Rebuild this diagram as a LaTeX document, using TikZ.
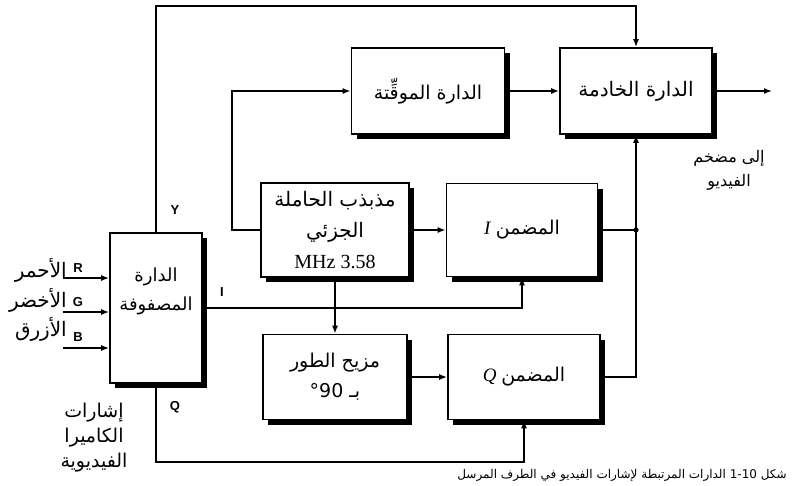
\documentclass[tikz,border=0pt]{standalone}
\usepackage{fontspec}
\setmainfont{Liberation Serif}
\newfontfamily\arabicfont[Script=Arabic]{DejaVu Sans}
\newfontfamily\lblfont{Liberation Sans}
\TeXXeTstate=1
\usetikzlibrary{arrows.meta,shadows}
\newcommand{\artxt}[1]{{\arabicfont\beginR #1\endR}}
\begin{document}
\begin{tikzpicture}[x=1pt,y=-1pt,
 box/.style={draw, line width=1.6pt, fill=white, align=center, inner sep=2pt,
   font=\fontsize{19}{30}\selectfont,
   drop shadow={shadow xshift=5pt, shadow yshift=-5pt, fill=black, opacity=1}},
 conn/.style={line width=1.5pt},
 arr/.style={conn, -{Latex[length=8pt,width=6pt]}},
 sig/.style={font=\lblfont\bfseries\fontsize{13}{14}\selectfont, inner sep=0pt},
 lbl/.style={font=\fontsize{19}{25}\selectfont, align=center, inner sep=0pt}]
\useasboundingbox (0,0) rectangle (793,485);

% boxes
\node[box, minimum width=92pt, minimum height=150pt, font=\fontsize{18}{29}\selectfont] (mat) at (156,308)
  {\artxt{الدارة}\\\artxt{المصفوفة}\\\strut};
\node[box, minimum width=153pt, minimum height=86pt] (timer) at (428,91)
  {\artxt{الدارة الموقِّتة}};
\node[box, minimum width=152pt, minimum height=86pt, font=\fontsize{20}{30}\selectfont] (servo) at (636,91)
  {\artxt{الدارة الخادمة}};
\node[box, minimum width=148pt, minimum height=94pt, font=\fontsize{20}{31}\selectfont] (osc) at (335,230)
  {\artxt{مذبذب الحاملة}\\\artxt{الجزئي}\\MHz 3.58};
\node[box, minimum width=151pt, minimum height=93pt] (imod) at (522,230)
  {\textit{I}\ \artxt{المضمن}};
\node[box, minimum width=144pt, minimum height=85pt] (phase) at (335,377)
  {\artxt{مزيح الطور}\\\artxt{بـ \beginL°90\endL}};
\node[box, minimum width=152pt, minimum height=85pt] (qmod) at (524,377)
  {\textit{Q}\ \artxt{المضمن}};

% helper coordinates
\coordinate (ytop) at (0,6);
\coordinate (tl) at (232,0);
\coordinate (qbot) at (0,462);
\coordinate (out) at (772,91);
\coordinate (rin) at (63,278);
\coordinate (gin) at (63,312);
\coordinate (bin) at (63,348);

% connectors
\draw[arr] (mat.north) -- (mat.north |- ytop) -- (servo.north |- ytop) -- (servo.north);
\draw[arr] (osc.west) -- (osc.west -| tl) |- (timer.west);
\draw[arr] (timer.east) -- (servo.west);
\draw[arr] (servo.east) -- (out);
\draw[arr] (osc.east) -- (imod.west);
\draw[arr] (osc.south) -- (phase.north);
\draw[arr] (mat.east) -| (imod.south);
\draw[arr] (phase.east) -- (qmod.west);
\draw[arr] (mat.south) -- (mat.south |- qbot) -| (qmod.south);
\draw[conn] (imod.east) -- (imod.east -| servo.south);
\draw[arr] (qmod.east) -| (servo.south);
\fill (imod.east -| servo.south) circle (2.6pt);
\draw[arr] (rin) -- (rin -| mat.west);
\draw[arr] (gin) -- (gin -| mat.west);
\draw[arr] (bin) -- (bin -| mat.west);

% signal letters
\node[sig] (ly) at (175,210) {Y};
\node[sig] (li) at (222,292) {I};
\node[sig] (lq) at (175,407) {Q};
\node[sig] (lr) at (78,268) {R};
\node[sig] (lg) at (78,302) {G};
\node[sig] (lb) at (78,337) {B};

% arabic labels
\node[lbl, anchor=east, font=\fontsize{20}{25}\selectfont] (tr) at (67,270) {\artxt{الأحمر}};
\node[lbl, anchor=east, font=\fontsize{20}{25}\selectfont] (tg) at (67,300) {\artxt{الأخضر}};
\node[lbl, anchor=east, font=\fontsize{20}{25}\selectfont] (tb) at (67,329) {\artxt{الأزرق}};
\node[lbl] (cam) at (94,438) {\artxt{إشارات}\\\artxt{الكاميرا}\\\artxt{الفيديوية}};
\node[lbl, font=\fontsize{16}{24}\selectfont] (amp) at (729,170) {\artxt{إلى مضخم}\\\artxt{الفيديو}};

% caption
\node[lbl, font=\fontsize{12}{14}\selectfont] (cap) at (622,475)
  {\artxt{شكل \beginL 1-10\endL{} الدارات المرتبطة لإشارات الفيديو في الطرف المرسل}};
\end{tikzpicture}
\end{document}
